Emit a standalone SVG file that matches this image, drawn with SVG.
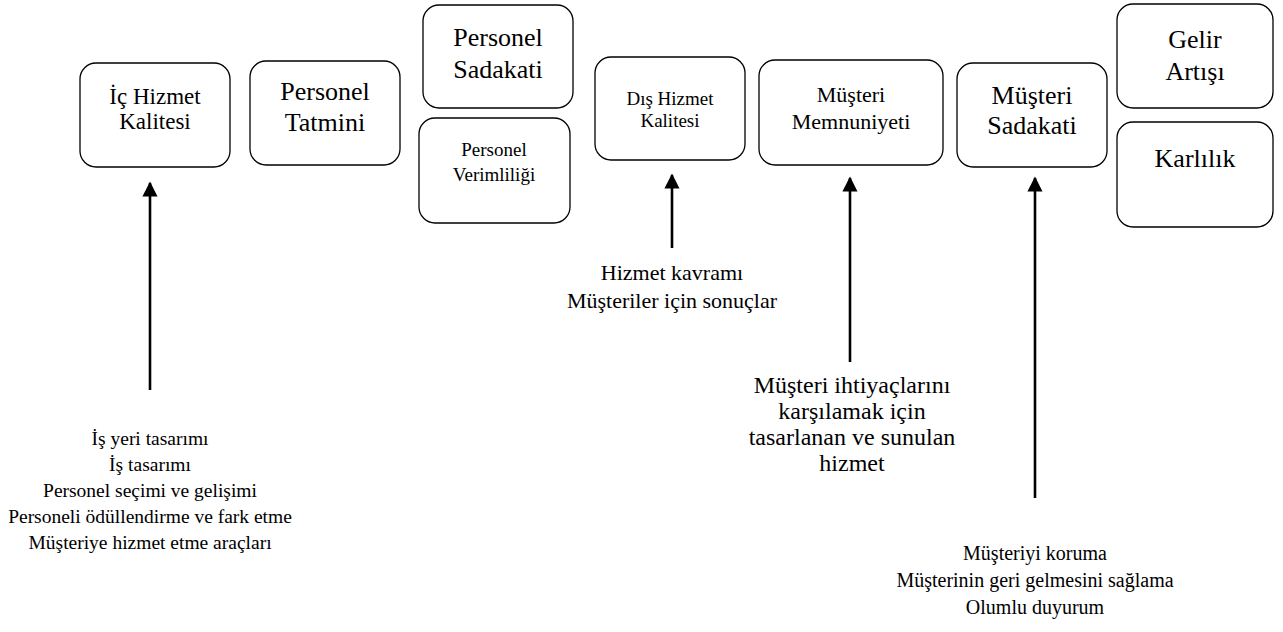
<svg xmlns="http://www.w3.org/2000/svg" width="1283" height="632" viewBox="0 0 1283 632">
  <style>
    .box { fill: #ffffff; stroke: #000000; stroke-width: 1.3; }
    text { font-family: 'Liberation Serif', 'Times New Roman', serif; fill: #000000; text-anchor: middle; }
    .arrow { stroke: #000000; stroke-width: 2.6; fill: none; }
  </style>
  <defs>
    <marker id="head" viewBox="0 0 10 10" refX="9" refY="5" markerWidth="5.8" markerHeight="5.8" orient="auto" markerUnits="strokeWidth">
      <path d="M0,0 L10,5 L0,10 Z" fill="#000000"/>
    </marker>
  </defs>
  <rect width="1283" height="632" fill="#ffffff"/>

  <!-- boxes, left to right -->
  <g id="ic-hizmet-kalitesi">
    <rect class="box" x="80" y="63" width="150" height="104" rx="16"/>
    <text x="155" y="104" font-size="23">İç Hizmet</text>
    <text x="155" y="129" font-size="23">Kalitesi</text>
  </g>
  <g id="personel-tatmini">
    <rect class="box" x="250" y="61" width="150" height="104" rx="16"/>
    <text x="325" y="100" font-size="26">Personel</text>
    <text x="325" y="131" font-size="26">Tatmini</text>
  </g>
  <g id="personel-sadakati">
    <rect class="box" x="423" y="5" width="150" height="103" rx="16"/>
    <text x="498" y="46" font-size="26">Personel</text>
    <text x="498" y="78" font-size="26">Sadakati</text>
  </g>
  <g id="personel-verimliligi">
    <rect class="box" x="419" y="118" width="151" height="105" rx="16"/>
    <text x="494" y="156" font-size="19">Personel</text>
    <text x="494" y="181" font-size="19">Verimliliği</text>
  </g>
  <g id="dis-hizmet-kalitesi">
    <rect class="box" x="595" y="57" width="150" height="103" rx="16"/>
    <text x="670" y="105" font-size="19">Dış Hizmet</text>
    <text x="670" y="127" font-size="19">Kalitesi</text>
  </g>
  <g id="musteri-memnuniyeti">
    <rect class="box" x="759" y="60" width="184" height="105" rx="16"/>
    <text x="851" y="102" font-size="22">Müşteri</text>
    <text x="851" y="129" font-size="22">Memnuniyeti</text>
  </g>
  <g id="musteri-sadakati">
    <rect class="box" x="957" y="63" width="150" height="104" rx="16"/>
    <text x="1032" y="104" font-size="26">Müşteri</text>
    <text x="1032" y="134" font-size="26">Sadakati</text>
  </g>
  <g id="gelir-artisi">
    <rect class="box" x="1117" y="4" width="156" height="104" rx="16"/>
    <text x="1195" y="48" font-size="26">Gelir</text>
    <text x="1195" y="80" font-size="26">Artışı</text>
  </g>
  <g id="karlilik">
    <rect class="box" x="1117" y="122" width="156" height="105" rx="16"/>
    <text x="1195" y="167" font-size="26">Karlılık</text>
  </g>

  <!-- upward arrows from each list of drivers -->
  <g id="connectors">
    <line class="arrow" x1="150" y1="390" x2="150" y2="183" marker-end="url(#head)"/>
    <line class="arrow" x1="672" y1="248" x2="672" y2="175" marker-end="url(#head)"/>
    <line class="arrow" x1="850" y1="362" x2="850" y2="178" marker-end="url(#head)"/>
    <line class="arrow" x1="1035" y1="498" x2="1035" y2="178" marker-end="url(#head)"/>
  </g>

  <g id="ic-hizmet-etkenleri">
    <text x="150" y="445" font-size="19.5">İş yeri tasarımı</text>
    <text x="150" y="471" font-size="19.5">İş tasarımı</text>
    <text x="150" y="497" font-size="19.5">Personel seçimi ve gelişimi</text>
    <text x="150" y="523" font-size="19.5">Personeli ödüllendirme ve fark etme</text>
    <text x="150" y="549" font-size="19.5">Müşteriye hizmet etme araçları</text>
  </g>
  <g id="dis-hizmet-etkenleri">
    <text x="672" y="280" font-size="22">Hizmet kavramı</text>
    <text x="672" y="308" font-size="22">Müşteriler için sonuçlar</text>
  </g>
  <g id="memnuniyet-etkenleri">
    <text x="852" y="393" font-size="24">Müşteri ihtiyaçlarını</text>
    <text x="852" y="419" font-size="24">karşılamak için</text>
    <text x="852" y="445" font-size="24">tasarlanan ve sunulan</text>
    <text x="852" y="471" font-size="24">hizmet</text>
  </g>
  <g id="sadakat-etkenleri">
    <text x="1035" y="560" font-size="20">Müşteriyi koruma</text>
    <text x="1035" y="587" font-size="20">Müşterinin geri gelmesini sağlama</text>
    <text x="1035" y="614" font-size="20">Olumlu duyurum</text>
  </g>
</svg>
